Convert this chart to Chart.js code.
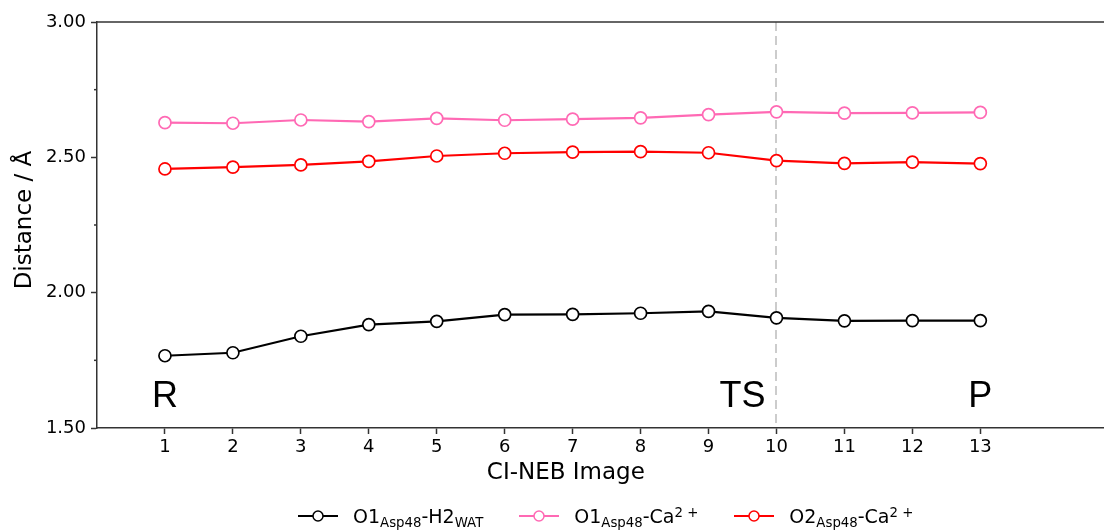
<!DOCTYPE html>
<html>
<head>
<meta charset="utf-8">
<script src="https://cdn.jsdelivr.net/npm/chart.js@4.4.0/dist/chart.umd.min.js"></script>
<style>
  body { margin: 0; background: #fff; }
  #wrap { position: relative; width: 1104px; height: 531px; }
  #legend { position: absolute; left: 298px; top: 505px; display: flex; align-items: center; font-family: 'DejaVu Sans', sans-serif; font-size: 19px; color: #000; white-space: nowrap; }
  .item { display: flex; align-items: center; margin-right: 36px; }
  .item svg { margin-right: 15px; }
  .sb { font-size: 70%; position: relative; top: 0.3em; }
  .sp { font-size: 70%; position: relative; top: -0.45em; }
</style>
</head>
<body>
<div id="wrap">
  <canvas id="chart" width="1104" height="531"></canvas>
  <div id="legend">
    <div class="item">
      <svg width="40" height="14"><line x1="0" y1="7" x2="40" y2="7" stroke="#000" stroke-width="2"/><circle cx="20" cy="7" r="5" fill="#fff" stroke="#000" stroke-width="1.5"/></svg>
      <span>O1<span class="sb">Asp48</span>-H2<span class="sb">WAT</span></span>
    </div>
    <div class="item">
      <svg width="40" height="14"><line x1="0" y1="7" x2="40" y2="7" stroke="#ff69b4" stroke-width="2"/><circle cx="20" cy="7" r="5" fill="#fff" stroke="#ff69b4" stroke-width="1.5"/></svg>
      <span>O1<span class="sb">Asp48</span>-Ca<span class="sp">2 +</span></span>
    </div>
    <div class="item">
      <svg width="40" height="14"><line x1="0" y1="7" x2="40" y2="7" stroke="#ff0000" stroke-width="2"/><circle cx="20" cy="7" r="5" fill="#fff" stroke="#ff0000" stroke-width="1.5"/></svg>
      <span>O2<span class="sb">Asp48</span>-Ca<span class="sp">2 +</span></span>
    </div>
  </div>
</div>
<script>
const images = [1, 2, 3, 4, 5, 6, 7, 8, 9, 10, 11, 12, 13];
const o1H2wat = [1.767, 1.778, 1.839, 1.882, 1.894, 1.919, 1.920, 1.924, 1.931, 1.907, 1.896, 1.897, 1.897];
const o1Ca = [2.628, 2.626, 2.638, 2.632, 2.644, 2.637, 2.641, 2.646, 2.658, 2.668, 2.663, 2.664, 2.666];
const o2Ca = [2.457, 2.464, 2.472, 2.485, 2.505, 2.515, 2.519, 2.521, 2.517, 2.488, 2.478, 2.482, 2.477];
const yTicks = [1.5, 2.0, 2.5, 3.0];
const yMinorTicks = [1.75, 2.25, 2.75];
const tsImage = 10;
const stateLabels = [{ text: 'R', x: 1 }, { text: 'TS', x: 9.5 }, { text: 'P', x: 13 }];

const AXIS = '#333';
const FONT = "'DejaVu Sans', sans-serif";

function series(vals, color) {
  return {
    data: images.map(function(x, i) { return { x: x, y: vals[i] }; }),
    borderColor: color, borderWidth: 2.2,
    pointRadius: 6, pointBorderWidth: 1.7,
    pointBackgroundColor: '#fff', pointBorderColor: color,
    tension: 0
  };
}

const extras = {
  id: 'extras',
  beforeDatasetsDraw(chart) {
    const c = chart.ctx, a = chart.chartArea, xs = chart.scales.x;
    const px = Math.round(xs.getPixelForValue(tsImage));
    c.save();
    c.strokeStyle = '#cccccc'; c.lineWidth = 2; c.setLineDash([9, 5]);
    c.beginPath(); c.moveTo(px, a.top); c.lineTo(px, a.bottom); c.stroke();
    c.restore();
  },
  afterDraw(chart) {
    const c = chart.ctx, a = chart.chartArea, xs = chart.scales.x, ys = chart.scales.y;
    c.save();
    // top spine
    c.strokeStyle = AXIS; c.lineWidth = 1.5;
    c.beginPath(); c.moveTo(a.left, a.top); c.lineTo(a.right, a.top); c.stroke();
    // minor y ticks
    yMinorTicks.forEach(function(v) {
      const py = ys.getPixelForValue(v);
      c.beginPath(); c.moveTo(a.left - 3, py); c.lineTo(a.left, py); c.stroke();
    });
    // R / TS / P
    c.fillStyle = '#000';
    c.font = "36px 'Liberation Sans', sans-serif";
    c.textAlign = 'center'; c.textBaseline = 'alphabetic';
    stateLabels.forEach(function(s) {
      c.fillText(s.text, xs.getPixelForValue(s.x), ys.getPixelForValue(1.578));
    });
    // axis titles
    c.font = '23px ' + FONT;
    c.textBaseline = 'middle';
    c.fillText('CI-NEB Image', xs.getPixelForValue(6.9), 473);
    c.translate(25, 220); c.rotate(-Math.PI / 2);
    c.fillText('Distance / Å', 0, 0);
    c.restore();
  }
};

new Chart(document.getElementById('chart'), {
  type: 'line',
  data: { datasets: [series(o1H2wat, '#000000'), series(o1Ca, '#ff69b4'), series(o2Ca, '#ff0000')] },
  options: {
    responsive: false, animation: false,
    layout: { autoPadding: false, padding: { top: 22, right: 0, left: 0, bottom: 0 } },
    plugins: { legend: { display: false }, tooltip: { enabled: false } },
    scales: {
      x: {
        type: 'linear', min: 0, max: 14.82,
        afterBuildTicks: function(s) { s.ticks = images.map(function(v) { return { value: v }; }); },
        afterFit: function(s) { s.height = 103; s.paddingRight = 0; s.paddingLeft = 0; },
        ticks: { font: { family: FONT, size: 18 }, color: '#000', padding: 3, maxRotation: 0, callback: function(v) { return String(v); } },
        grid: { drawOnChartArea: false, tickLength: 6, tickColor: AXIS, tickWidth: 1.5 },
        border: { color: AXIS, width: 1.5 }
      },
      y: {
        min: 1.5, max: 3.0,
        afterBuildTicks: function(s) { s.ticks = yTicks.map(function(v) { return { value: v }; }); },
        afterFit: function(s) { s.width = 97; s.paddingTop = 0; s.paddingBottom = 0; },
        ticks: { font: { family: FONT, size: 18 }, color: '#000', padding: 5, callback: function(v) { return v.toFixed(2); } },
        grid: { drawOnChartArea: false, tickLength: 6, tickColor: AXIS, tickWidth: 1.5 },
        border: { color: AXIS, width: 1.5 }
      }
    }
  },
  plugins: [extras]
});
</script>
</body>
</html>
